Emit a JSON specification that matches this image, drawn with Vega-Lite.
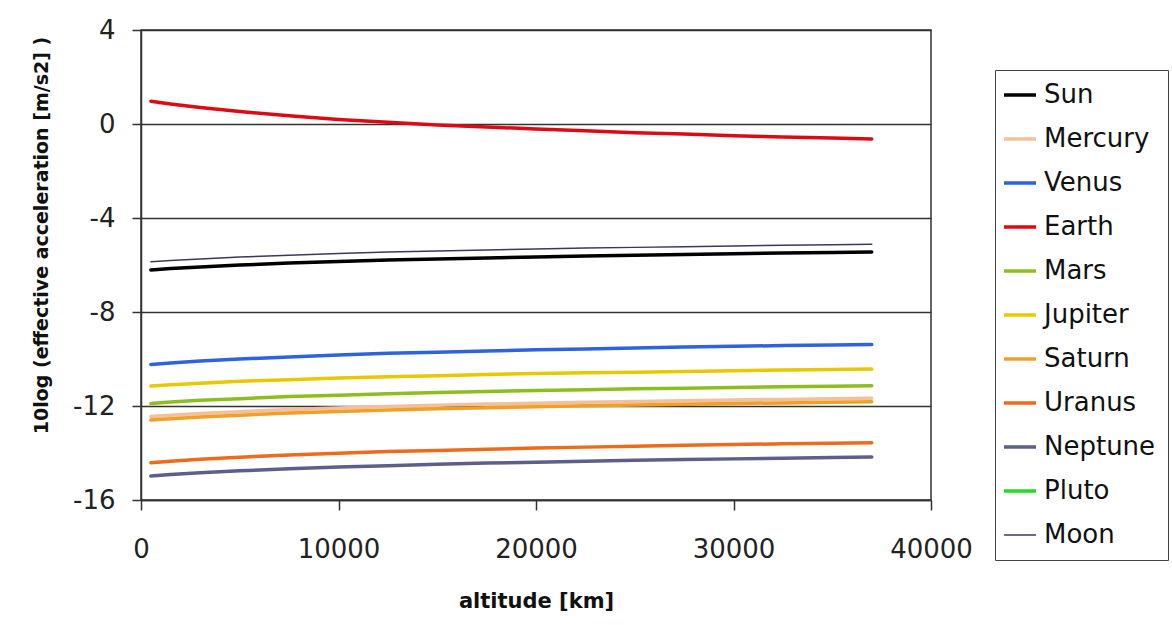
{
  "$schema": "https://vega.github.io/schema/vega-lite/v6.json",
  "autosize": "none",
  "width": 790,
  "height": 470,
  "padding": {"left": 141, "top": 30, "right": 241, "bottom": 125},
  "background": "white",
  "config": {
    "view": {"stroke": "#333333", "strokeWidth": 1.5},
    "font": "DejaVu Sans"
  },
  "data": {
    "values": [
      {"alt": 500, "Sun": -6.21, "Mercury": -12.45, "Venus": -10.23, "Earth": 0.97, "Mars": -11.89, "Jupiter": -11.15, "Saturn": -12.60, "Uranus": -14.41, "Neptune": -14.98, "Moon": -5.86},
      {"alt": 1500, "Sun": -6.15, "Mercury": -12.39, "Venus": -10.17, "Earth": 0.85, "Mars": -11.83, "Jupiter": -11.10, "Saturn": -12.54, "Uranus": -14.35, "Neptune": -14.92, "Moon": -5.81},
      {"alt": 3000, "Sun": -6.08, "Mercury": -12.32, "Venus": -10.09, "Earth": 0.70, "Mars": -11.76, "Jupiter": -11.03, "Saturn": -12.47, "Uranus": -14.27, "Neptune": -14.84, "Moon": -5.74},
      {"alt": 5000, "Sun": -6.00, "Mercury": -12.24, "Venus": -10.00, "Earth": 0.53, "Mars": -11.69, "Jupiter": -10.95, "Saturn": -12.39, "Uranus": -14.18, "Neptune": -14.76, "Moon": -5.66},
      {"alt": 7500, "Sun": -5.92, "Mercury": -12.15, "Venus": -9.91, "Earth": 0.35, "Mars": -11.60, "Jupiter": -10.88, "Saturn": -12.30, "Uranus": -14.09, "Neptune": -14.67, "Moon": -5.58},
      {"alt": 10000, "Sun": -5.85, "Mercury": -12.08, "Venus": -9.83, "Earth": 0.19, "Mars": -11.54, "Jupiter": -10.81, "Saturn": -12.23, "Uranus": -14.01, "Neptune": -14.60, "Moon": -5.51},
      {"alt": 12500, "Sun": -5.79, "Mercury": -12.02, "Venus": -9.76, "Earth": 0.07, "Mars": -11.48, "Jupiter": -10.76, "Saturn": -12.17, "Uranus": -13.94, "Neptune": -14.54, "Moon": -5.45},
      {"alt": 15000, "Sun": -5.74, "Mercury": -11.97, "Venus": -9.71, "Earth": -0.04, "Mars": -11.43, "Jupiter": -10.71, "Saturn": -12.12, "Uranus": -13.89, "Neptune": -14.48, "Moon": -5.40},
      {"alt": 17500, "Sun": -5.70, "Mercury": -11.92, "Venus": -9.66, "Earth": -0.13, "Mars": -11.38, "Jupiter": -10.66, "Saturn": -12.07, "Uranus": -13.84, "Neptune": -14.43, "Moon": -5.36},
      {"alt": 20000, "Sun": -5.66, "Mercury": -11.88, "Venus": -9.61, "Earth": -0.21, "Mars": -11.34, "Jupiter": -10.62, "Saturn": -12.03, "Uranus": -13.79, "Neptune": -14.39, "Moon": -5.32},
      {"alt": 22500, "Sun": -5.62, "Mercury": -11.84, "Venus": -9.57, "Earth": -0.29, "Mars": -11.31, "Jupiter": -10.59, "Saturn": -11.99, "Uranus": -13.75, "Neptune": -14.35, "Moon": -5.28},
      {"alt": 25000, "Sun": -5.58, "Mercury": -11.81, "Venus": -9.53, "Earth": -0.37, "Mars": -11.27, "Jupiter": -10.56, "Saturn": -11.96, "Uranus": -13.71, "Neptune": -14.31, "Moon": -5.25},
      {"alt": 27500, "Sun": -5.55, "Mercury": -11.78, "Venus": -9.49, "Earth": -0.43, "Mars": -11.24, "Jupiter": -10.53, "Saturn": -11.93, "Uranus": -13.67, "Neptune": -14.28, "Moon": -5.22},
      {"alt": 30000, "Sun": -5.52, "Mercury": -11.74, "Venus": -9.46, "Earth": -0.50, "Mars": -11.21, "Jupiter": -10.50, "Saturn": -11.89, "Uranus": -13.64, "Neptune": -14.25, "Moon": -5.19},
      {"alt": 32500, "Sun": -5.49, "Mercury": -11.72, "Venus": -9.43, "Earth": -0.55, "Mars": -11.18, "Jupiter": -10.47, "Saturn": -11.87, "Uranus": -13.61, "Neptune": -14.22, "Moon": -5.16},
      {"alt": 35000, "Sun": -5.47, "Mercury": -11.69, "Venus": -9.40, "Earth": -0.60, "Mars": -11.16, "Jupiter": -10.45, "Saturn": -11.84, "Uranus": -13.58, "Neptune": -14.19, "Moon": -5.14},
      {"alt": 37000, "Sun": -5.45, "Mercury": -11.67, "Venus": -9.38, "Earth": -0.64, "Mars": -11.14, "Jupiter": -10.43, "Saturn": -11.82, "Uranus": -13.56, "Neptune": -14.17, "Moon": -5.12}
    ]
  },
  "transform": [
    {"fold": ["Sun", "Mercury", "Venus", "Earth", "Mars", "Jupiter", "Saturn", "Uranus", "Neptune", "Moon"], "as": ["body", "value"]}
  ],
  "mark": {"type": "line", "strokeCap": "round", "clip": true},
  "encoding": {
    "x": {
      "field": "alt", "type": "quantitative",
      "scale": {"domain": [0, 40000], "nice": false},
      "axis": {
        "title": "altitude [km]",
        "values": [0, 10000, 20000, 30000, 40000],
        "labelExpr": "'' + datum.value",
        "grid": false,
        "domainColor": "#333333", "domainWidth": 1.5,
        "tickColor": "#333333", "tickWidth": 1.5, "tickSize": 10,
        "labelFont": "DejaVu Sans", "labelFontSize": 26, "labelColor": "#222222",
        "labelPadding": 26, "labelFlush": false,
        "titleFont": "DejaVu Sans", "titleFontSize": 21, "titleFontWeight": "bold", "titleColor": "#111111",
        "titleY": 90
      }
    },
    "y": {
      "field": "value", "type": "quantitative",
      "scale": {"domain": [-16, 4], "nice": false, "zero": false},
      "axis": {
        "title": "10log (effective acceleration [m/s2] )",
        "values": [-16, -12, -8, -4, 0, 4],
        "labelExpr": "'' + datum.value",
        "grid": true, "gridColor": "#333333", "gridWidth": 1.5, "gridOpacity": 1,
        "domainColor": "#333333", "domainWidth": 1.5,
        "tickColor": "#333333", "tickWidth": 1.5, "tickSize": 9,
        "labelFont": "DejaVu Sans", "labelFontSize": 26, "labelColor": "#222222",
        "labelPadding": 17,
        "titleFont": "DejaVu Sans", "titleFontSize": 19, "titleFontWeight": "bold", "titleColor": "#111111",
        "titleX": -90, "titleY": 205
      }
    },
    "color": {
      "field": "body", "type": "nominal",
      "scale": {
        "domain": ["Sun", "Mercury", "Venus", "Earth", "Mars", "Jupiter", "Saturn", "Uranus", "Neptune", "Pluto", "Moon"],
        "range": ["#000000", "#F4C09C", "#2F62E0", "#DD0A14", "#8CBF1E", "#E8C800", "#F0A028", "#EE6A1C", "#5E5E8C", "#22DD22", "#3A3A58"]
      },
      "legend": {
        "title": null,
        "orient": "none", "legendX": 854, "legendY": 40,
        "symbolType": "stroke", "symbolSize": 1024,
        "symbolStrokeWidth": {"expr": "datum.value === 'Moon' ? 1.5 : 3.5"},
        "labelFont": "DejaVu Sans", "labelFontSize": 26, "labelColor": "#111111",
        "labelOffset": 11, "rowPadding": 18,
        "padding": 12, "strokeColor": "#444444", "fillColor": "white"
      }
    },
    "strokeWidth": {
      "condition": {"test": "datum.body === 'Moon'", "value": 1.5},
      "value": 3.5
    }
  }
}
